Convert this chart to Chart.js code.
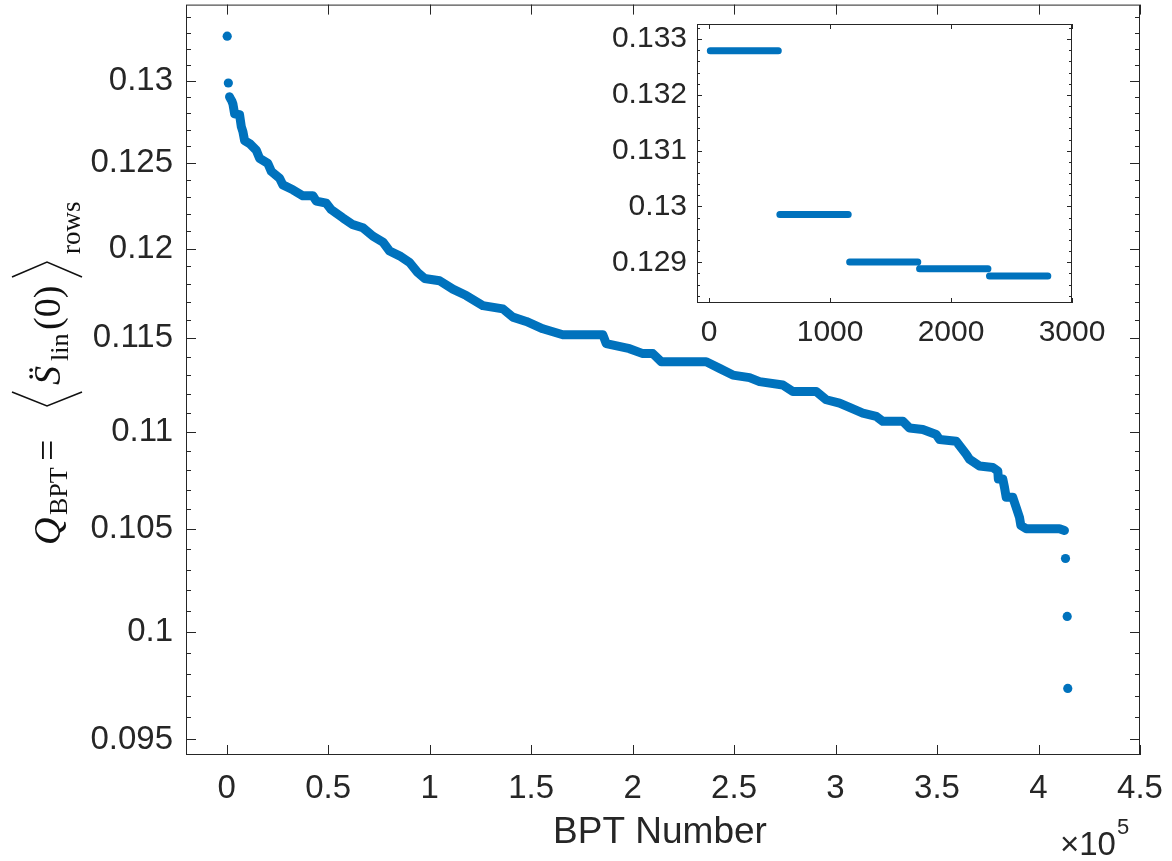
<!DOCTYPE html>
<html>
<head>
<meta charset="utf-8">
<script src="https://cdn.jsdelivr.net/npm/chart.js@4.4.0/dist/chart.umd.min.js"></script>
<style>
  html, body { margin: 0; padding: 0; background: #fff; }
  #wrap { position: relative; width: 1172px; height: 861px; }
  #main { position: absolute; left: 0; top: 0; }
  #inset { position: absolute; left: 590px; top: 10px; }
</style>
</head>
<body>
<div id="wrap">
  <canvas id="main" width="1172" height="861"></canvas>
  <canvas id="inset" width="560" height="345"></canvas>
</div>
<script>
// main curve: BPT number vs Q_BPT
var bptNumber = [
  1440, 2000, 2550, 3100, 3940, 6400, 7240, 8030, 8870, 11330,
  14630, 16260, 20340, 22020, 26110, 27730, 32660, 37590, 42510, 44190,
  49110, 51570, 57290, 62210, 67140, 72070, 77000, 80290, 85220, 90150,
  94090, 97540, 104930, 111480, 118080, 126250, 136110, 141030, 147630, 155810,
  165660, 185360, 187040, 198520, 205070, 210000, 214140, 236300, 242850, 249410,
  257630, 262560, 274040, 278960, 290490, 295410, 301960, 306890, 313440, 320040,
  323290, 333150, 336450, 343000, 349600, 351230, 359450, 364380, 366000, 370930,
  377480, 379950, 380200, 382410, 383250, 384080, 387330, 388990, 390620, 391300,
  393920, 410330, 412790
];
var qBpt = [
  0.12901, 0.12888, 0.12876, 0.12858, 0.12797, 0.12791, 0.12719, 0.12689, 0.12635, 0.12617,
  0.12577, 0.12528, 0.12498, 0.12451, 0.12410, 0.12371, 0.12342, 0.12307, 0.12307, 0.12276,
  0.12264, 0.12226, 0.12178, 0.12139, 0.12121, 0.12073, 0.12039, 0.11988, 0.11960, 0.11922,
  0.11866, 0.11832, 0.11819, 0.11772, 0.11736, 0.11680, 0.11662, 0.11616, 0.11592, 0.11552,
  0.11519, 0.11519, 0.11470, 0.11443, 0.11416, 0.11416, 0.11372, 0.11372, 0.11336, 0.11300,
  0.11286, 0.11265, 0.11247, 0.11212, 0.11212, 0.11168, 0.11150, 0.11127, 0.11097, 0.11080,
  0.11054, 0.11054, 0.11019, 0.11011, 0.10985, 0.10959, 0.10950, 0.10882, 0.10856, 0.10821,
  0.10813, 0.10796, 0.10754, 0.10754, 0.10711, 0.10661, 0.10661, 0.10610, 0.10560, 0.10519,
  0.10503, 0.10503, 0.10494
];
// lone points at the two ends of the curve
var loneX = [300, 860, 413290, 414130, 414420];
var loneQ = [0.13279, 0.12986, 0.10355, 0.10073, 0.097335];

var xTickVals = [0, 50000, 100000, 150000, 200000, 250000, 300000, 350000, 400000, 450000];
var xTickLabels = ['0', '0.5', '1', '1.5', '2', '2.5', '3', '3.5', '4', '4.5'];
var yTickVals = [0.095, 0.1, 0.105, 0.11, 0.115, 0.12, 0.125, 0.13];
var yTickLabels = ['0.095', '0.1', '0.105', '0.11', '0.115', '0.12', '0.125', '0.13'];

// inset: first 2800 BPTs, flat steps
var stepStart = [10, 585, 1162, 1740, 2318];
var stepEnd = [572, 1150, 1725, 2305, 2800];
var stepQ = [0.13279, 0.129857, 0.129007, 0.128882, 0.128756];
var insetXTicks = [0, 1000, 2000, 3000];
var insetXLabels = ['0', '1000', '2000', '3000'];
var insetYTicks = [0.129, 0.13, 0.131, 0.132, 0.133];
var insetYLabels = ['0.129', '0.13', '0.131', '0.132', '0.133'];

var blue = '#0072BD';
var ink = '#262626';
var sans = '"Liberation Sans", Arial, sans-serif';
var serif = '"Liberation Serif", "DejaVu Serif", serif';

// minor ticks on the log axis every 0.001
var yMinor = [];
for (var m = 95; m <= 134; m++) yMinor.push(m / 1000);
var insetYMinor = [];
for (var k = 0; k <= 25; k++) insetYMinor.push(0.1284 + k * 0.0002);

function boxTicks(id, xMaj, yMaj, yMin, majLen, minLen) {
  return {
    id: id,
    afterDatasetsDraw: function(chart) {
      var ctx = chart.ctx, a = chart.chartArea, x = chart.scales.x, y = chart.scales.y;
      ctx.save();
      ctx.strokeStyle = ink;
      ctx.lineWidth = 1;
      ctx.beginPath();
      xMaj.forEach(function(v) {
        var px = Math.round(x.getPixelForValue(v)) + 0.5;
        ctx.moveTo(px, a.bottom); ctx.lineTo(px, a.bottom - majLen);
        ctx.moveTo(px, a.top); ctx.lineTo(px, a.top + majLen);
      });
      yMin.forEach(function(v) {
        if (v < y.min || v > y.max) return;
        var isMaj = yMaj.some(function(t) { return Math.abs(t - v) < 1e-9; });
        var len = isMaj ? majLen : minLen;
        var py = Math.round(y.getPixelForValue(v)) + 0.5;
        ctx.moveTo(a.left, py); ctx.lineTo(a.left + len, py);
        ctx.moveTo(a.right, py); ctx.lineTo(a.right - len, py);
      });
      ctx.stroke();
      ctx.strokeRect(a.left + 0.5, a.top + 0.5, a.right - a.left - 1, a.bottom - a.top - 1);
      ctx.restore();
    }
  };
}

var mainText = {
  id: 'mainText',
  afterDraw: function(chart) {
    var ctx = chart.ctx;
    ctx.save();
    ctx.fillStyle = ink;
    ctx.textBaseline = 'alphabetic';
    ctx.textAlign = 'center';
    ctx.font = '37px ' + sans;
    ctx.fillText('BPT Number', 660, 843);
    ctx.textAlign = 'left';
    ctx.font = '33px ' + sans;
    ctx.fillText('\u00d710', 1060, 855);
    var w = ctx.measureText('\u00d710').width;
    ctx.font = '22px ' + sans;
    ctx.fillText('5', 1060 + w + 1, 834);

    // y label: Q_BPT = <S_lin(0)>_rows, rotated
    ctx.translate(60, 545);
    ctx.rotate(-Math.PI / 2);
    ctx.fillStyle = '#111';
    ctx.font = 'italic 38px ' + serif;
    ctx.fillText('Q', 0, 0);
    ctx.font = '26px ' + serif;
    ctx.fillText('BPT', 30, 7);
    ctx.font = '38px ' + serif;
    ctx.fillText('=', 84, 0);
    ctx.font = 'italic 38px ' + serif;
    ctx.fillText('S\u0308', 160, 0);
    ctx.font = '26px ' + serif;
    ctx.fillText('lin', 184, 8);
    ctx.font = '38px ' + serif;
    ctx.fillText('(0)', 215, 0);
    ctx.font = '27px ' + serif;
    ctx.fillText('rows', 291, 20);
    ctx.strokeStyle = '#111';
    ctx.lineWidth = 1.6;
    ctx.beginPath();
    ctx.moveTo(153, -48); ctx.lineTo(139, -13); ctx.lineTo(153, 22);
    ctx.moveTo(268, -48); ctx.lineTo(283, -13); ctx.lineTo(268, 22);
    ctx.stroke();
    ctx.restore();
  }
};

new Chart(document.getElementById('main').getContext('2d'), {
  type: 'scatter',
  data: {
    datasets: [{
      data: bptNumber.map(function(v, i) { return { x: v, y: qBpt[i] }; }),
      showLine: true,
      borderColor: blue,
      backgroundColor: blue,
      borderWidth: 9,
      borderCapStyle: 'round',
      borderJoinStyle: 'round',
      tension: 0,
      pointRadius: 0
    }, {
      data: loneX.map(function(v, i) { return { x: v, y: loneQ[i] }; }),
      showLine: false,
      backgroundColor: blue,
      borderWidth: 0,
      pointRadius: 4.6
    }]
  },
  options: {
    responsive: false,
    animation: false,
    events: [],
    layout: { padding: { top: 1, right: 32, bottom: 0, left: 0 } },
    plugins: { legend: { display: false }, tooltip: { enabled: false } },
    scales: {
      x: {
        type: 'linear', min: -20000, max: 450000,
        grid: { display: false, drawTicks: false }, border: { display: false },
        afterBuildTicks: function(s) { s.ticks = xTickVals.map(function(v) { return { value: v }; }); },
        afterFit: function(s) { s.height = 106; s.paddingLeft = 0; s.paddingRight = 0; },
        ticks: {
          autoSkip: false, maxRotation: 0, padding: 14, color: ink,
          font: { family: sans, size: 33 },
          callback: function(v, i) { return xTickLabels[i]; }
        }
      },
      y: {
        type: 'logarithmic', min: 0.0943, max: 0.1348, bounds: 'data',
        grid: { display: false, drawTicks: false }, border: { display: false },
        afterBuildTicks: function(s) { s.ticks = yTickVals.map(function(v) { return { value: v }; }); },
        afterFit: function(s) { s.width = 186; s.paddingTop = 0; s.paddingBottom = 0; },
        ticks: {
          autoSkip: false, padding: 13, color: ink,
          font: { family: sans, size: 33 },
          callback: function(v, i) { return yTickLabels[i]; }
        }
      }
    }
  },
  plugins: [boxTicks('mainBox', xTickVals, yTickVals, yMinor, 10, 5), mainText]
});

// inset steps, split with nulls so the steps are not joined
var stepPts = [];
stepStart.forEach(function(s, i) {
  stepPts.push({ x: s, y: stepQ[i] });
  stepPts.push({ x: stepEnd[i], y: stepQ[i] });
  stepPts.push({ x: (stepEnd[i] + (stepStart[i + 1] || stepEnd[i])) / 2, y: null });
});

var insetBg = {
  id: 'insetBg',
  beforeDraw: function(chart) {
    var a = chart.chartArea;
    chart.ctx.save();
    chart.ctx.fillStyle = '#fff';
    chart.ctx.fillRect(a.left, a.top, a.right - a.left, a.bottom - a.top);
    chart.ctx.restore();
  }
};

new Chart(document.getElementById('inset').getContext('2d'), {
  type: 'scatter',
  data: {
    datasets: [{
      data: stepPts,
      showLine: true,
      spanGaps: false,
      borderColor: blue,
      borderWidth: 7,
      borderCapStyle: 'round',
      pointRadius: 0
    }]
  },
  options: {
    responsive: false,
    animation: false,
    events: [],
    layout: { padding: { top: 14, right: 78, bottom: 0, left: 0 } },
    plugins: { legend: { display: false }, tooltip: { enabled: false } },
    scales: {
      x: {
        type: 'linear', min: -100, max: 3000,
        grid: { display: false, drawTicks: false }, border: { display: false },
        afterBuildTicks: function(s) { s.ticks = insetXTicks.map(function(v) { return { value: v }; }); },
        afterFit: function(s) { s.height = 52; s.paddingLeft = 0; s.paddingRight = 0; },
        ticks: {
          autoSkip: false, maxRotation: 0, padding: 12, color: ink,
          font: { family: sans, size: 30 },
          callback: function(v, i) { return insetXLabels[i]; }
        }
      },
      y: {
        type: 'linear', min: 0.12827, max: 0.13327,
        grid: { display: false, drawTicks: false }, border: { display: false },
        afterBuildTicks: function(s) { s.ticks = insetYTicks.map(function(v) { return { value: v }; }); },
        afterFit: function(s) { s.width = 107; s.paddingTop = 0; s.paddingBottom = 0; },
        ticks: {
          autoSkip: false, padding: 10, color: ink,
          font: { family: sans, size: 30 },
          callback: function(v, i) { return insetYLabels[i]; }
        }
      }
    }
  },
  plugins: [insetBg, boxTicks('insetBox', insetXTicks, insetYTicks, insetYMinor, 5, 3)]
});
</script>
</body>
</html>
